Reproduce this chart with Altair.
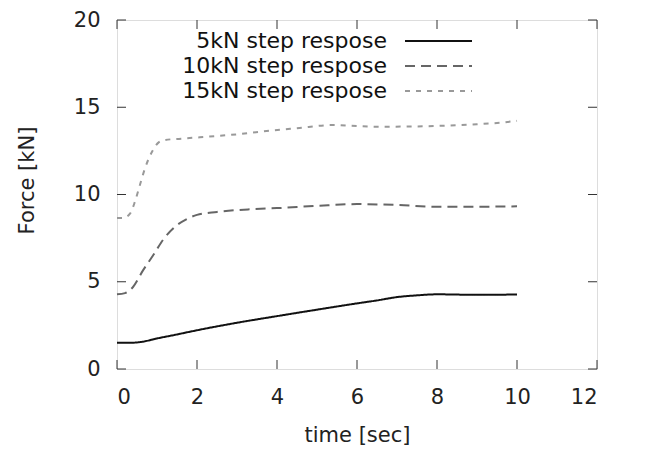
import altair as alt
import pandas as pd

# ---- data ----
t5 = [0, 0.3, 0.6, 1, 1.5, 2, 3, 4, 5, 6, 6.5, 7, 7.5, 8, 9, 10]
f5 = [1.5, 1.5, 1.55, 1.75, 1.98, 2.22, 2.65, 3.03, 3.4, 3.76, 3.93, 4.12, 4.22, 4.28, 4.25, 4.27]

t10 = [0, 0.2, 0.4, 0.65, 0.9, 1.15, 1.45, 1.75, 2.0, 2.5, 3.3, 4, 5, 6, 7, 8, 9, 10]
f10 = [4.28, 4.35, 4.7, 5.65, 6.5, 7.4, 8.15, 8.6, 8.83, 9.0, 9.15, 9.22, 9.35, 9.45, 9.4, 9.3, 9.3, 9.32]

t15 = [0, 0.15, 0.33, 0.45, 0.58, 0.7, 0.9, 1.05, 1.2, 1.6, 2.07, 3, 3.74, 4.5, 5.4, 6, 6.6, 7.1, 8, 9, 9.5, 10]
f15 = [8.65, 8.65, 8.92, 9.6, 10.6, 11.5, 12.55, 13.0, 13.12, 13.2, 13.28, 13.45, 13.64, 13.8, 13.98, 13.92, 13.88, 13.89, 13.93, 14.03, 14.1, 14.22]

series_names = ["5kN step respose", "10kN step respose", "15kN step respose"]
series_colors = ["#111111", "#666666", "#999999"]
series_dashes = [[1, 0], [10, 6], [5, 6]]

x_ticks = [0, 2, 4, 6, 8, 10, 12]
y_ticks = [0, 5, 10, 15, 20]

W, H = 480, 349
FONT = "DejaVu Sans"

rows = []
for name, ts, fs in zip(series_names, [t5, t10, t15], [f5, f10, f15]):
    for t, f in zip(ts, fs):
        rows.append({"series": name, "time": t, "force": f})
df = pd.DataFrame(rows)

xs = alt.Scale(domain=[0, 12], nice=False, zero=False)
ys = alt.Scale(domain=[0, 20], nice=False)

lines = alt.Chart(df).mark_line(strokeWidth=2, interpolate="monotone").encode(
    x=alt.X("time:Q", scale=xs,
            axis=alt.Axis(values=x_ticks, title="time [sec]", grid=False, ticks=False, tickSize=0,
                          domain=False, labelFont=FONT, labelFontSize=21, labelColor="#222",
                          labelPadding=34, labelBaseline="alphabetic",
                          titleFont=FONT, titleFontSize=21, titleFontWeight="normal", titleColor="#222",
                          titleY=72, titleBaseline="alphabetic")),
    y=alt.Y("force:Q", scale=ys,
            axis=alt.Axis(values=y_ticks, title="Force [kN]", grid=False, ticks=False, tickSize=0,
                          domain=False, labelFont=FONT, labelFontSize=21, labelColor="#222",
                          labelPadding=17,
                          titleFont=FONT, titleFontSize=21, titleFontWeight="normal", titleColor="#222",
                          titleX=-84, titleY=160, titleAngle=-90, titleBaseline="alphabetic",
                          titleAlign="center")),
    color=alt.Color("series:N", scale=alt.Scale(domain=series_names, range=series_colors), legend=None),
    strokeDash=alt.StrokeDash("series:N", scale=alt.Scale(domain=series_names, range=series_dashes), legend=None),
    detail="series:N",
)

xt = pd.DataFrame({"v": x_ticks})
yt = pd.DataFrame({"v": y_ticks})
TL = 9
tick_style = dict(color="#333", strokeWidth=1)
bottom_ticks = alt.Chart(xt).mark_rule(**tick_style).encode(
    x=alt.X("v:Q", scale=xs), y=alt.value(H), y2=alt.value(H - TL))
top_ticks = alt.Chart(xt).mark_rule(**tick_style).encode(
    x=alt.X("v:Q", scale=xs), y=alt.value(0), y2=alt.value(TL))
left_ticks = alt.Chart(yt).mark_rule(**tick_style).encode(
    y=alt.Y("v:Q", scale=ys), x=alt.value(0), x2=alt.value(TL))
right_ticks = alt.Chart(yt).mark_rule(**tick_style).encode(
    y=alt.Y("v:Q", scale=ys), x=alt.value(W - TL), x2=alt.value(W))

# manual legend (text on the left, line sample on the right)
leg_layers = []
leg_y = [21, 46, 71]
for name, col, dash, yy in zip(series_names, series_colors, series_dashes, leg_y):
    ld = pd.DataFrame({"label": [name]})
    leg_layers.append(
        alt.Chart(ld).mark_text(align="right", baseline="middle", font=FONT, fontSize=22, color="#111").encode(
            text="label:N", x=alt.value(270), y=alt.value(yy)))
    leg_layers.append(
        alt.Chart(ld).mark_rule(color=col, strokeWidth=2, strokeDash=dash).encode(
            x=alt.value(288), x2=alt.value(355), y=alt.value(yy)))

chart = alt.layer(lines, bottom_ticks, top_ticks, left_ticks, right_ticks, *leg_layers).properties(
    width=W, height=H,
    autosize=alt.AutoSizeParams(type="none"),
    padding={"left": 109, "top": 12, "right": 30, "bottom": 78},
).configure_view(stroke="#333", strokeWidth=1).configure(background="white")

chart.save("out.html", embed_options={"renderer": "svg", "actions": False})
